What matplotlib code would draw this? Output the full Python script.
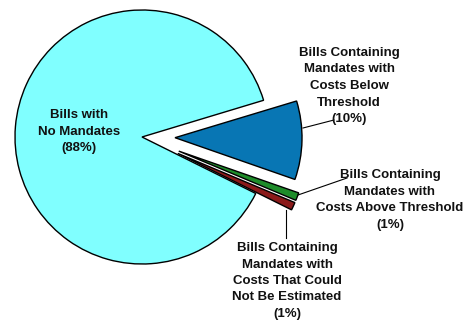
import matplotlib
matplotlib.use("Agg")
import matplotlib.pyplot as plt

labels = [
    "Bills Containing\nMandates with\nCosts That Could\nNot Be Estimated\n(1%)",
    "Bills Containing\nMandates with\nCosts Above Threshold\n(1%)",
    "Bills Containing\nMandates with\nCosts Below\nThreshold\n(10%)",
    "Bills with\nNo Mandates\n(88%)",
]
values = [1, 1, 10, 88]
colors = ["#8B1A1A", "#1E8C2A", "#0876B4", "#80FFFF"]
explode = [0.31, 0.31, 0.26, 0.0]

fig = plt.figure(figsize=(4.66, 3.27), dpi=100)
ax = fig.add_axes([0, 0, 1, 1])
H = 327
cx, cy, r = 142, H - 137, 127
ax.pie(values, colors=colors, explode=[e * r for e in explode], startangle=-26.4,
       center=(cx, cy), radius=r, counterclock=True,
       wedgeprops=dict(edgecolor="black", linewidth=1.0))
ax.set_xlim(0, 466)
ax.set_ylim(0, H)
ax.set_aspect("equal")
ax.axis("off")

fp = dict(family="Liberation Sans", fontweight="bold", fontsize=9.5,
          ha="center", va="center", linespacing=1.5, color="#111111")
# label positions (pixel coords from top-left)
pos = [(287, 281), (390, 200), (349, 86), (79, 132)]
for lab, (px, py) in zip(labels, pos):
    ax.text(px, H - py, lab, **fp)

# leader lines
leaders = [((286, 210), (286, 238)), ((298, 195), (347, 178)), ((303, 128), (334, 120))]
for (x0, y0), (x1, y1) in leaders:
    ax.plot([x0, x1], [H - y0, H - y1], color="black", lw=0.8)

fig.savefig("out.png", dpi=100)
